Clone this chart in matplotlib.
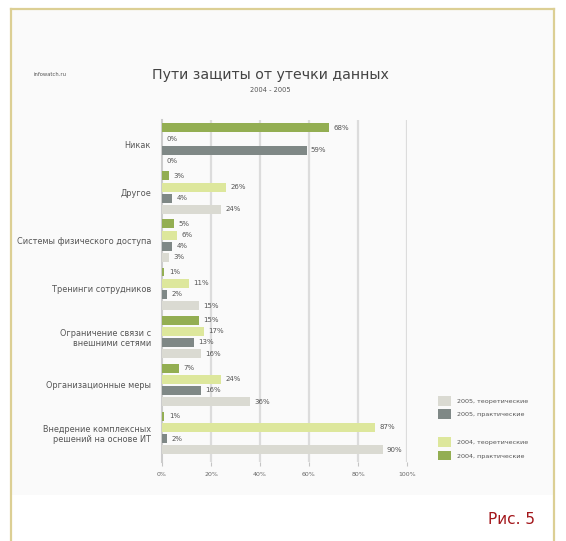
import numpy as np
import matplotlib.pyplot as plt
from matplotlib.patches import Patch, Rectangle
from matplotlib.lines import Line2D

# categories, top to bottom
categories = [
    "Никак",
    "Другое",
    "Системы физического доступа",
    "Тренинги сотрудников",
    "Ограничение связи с\nвнешними сетями",
    "Организационные меры",
    "Внедрение комплексных\nрешений на основе ИТ",
]

# shares, %
prac_2004 = [68, 3, 5, 1, 15, 7, 1]
theor_2004 = [0, 26, 6, 11, 17, 24, 87]
prac_2005 = [59, 4, 4, 2, 13, 16, 2]
theor_2005 = [0, 24, 3, 15, 16, 36, 90]

x_ticks = [0, 20, 40, 60, 80, 100]
x_ticklabels = ["0%", "20%", "40%", "60%", "80%", "100%"]

c_prac_2004 = "#93ae52"
c_theor_2004 = "#dde79c"
c_prac_2005 = "#7f8886"
c_theor_2005 = "#dadad2"

fig = plt.figure(figsize=(5.66, 5.41), dpi=100)

# page frame
fig.patches.append(Rectangle((12 / 566, 1 - 495 / 541), 541 / 566, 485 / 541,
                             transform=fig.transFigure, facecolor="#fafafa",
                             edgecolor="none", zorder=-5))
fig.add_artist(Line2D([11 / 566, 554 / 566], [1 - 9 / 541, 1 - 9 / 541],
                      transform=fig.transFigure, color="#dccf94", lw=1.6))
fig.add_artist(Line2D([11 / 566, 11 / 566], [0, 1 - 9 / 541],
                      transform=fig.transFigure, color="#dccf94", lw=1.6))
fig.add_artist(Line2D([554 / 566, 554 / 566], [0, 1 - 9 / 541],
                      transform=fig.transFigure, color="#dccf94", lw=1.6))

ax = fig.add_axes([162 / 566, 1 - 462 / 541, 245 / 566, 342 / 541])
ax.set_facecolor("none")
ax.set_zorder(2)

group_step = 4.3
base = np.arange(len(categories)) * group_step
series = [
    (prac_2004, c_prac_2004),
    (theor_2004, c_theor_2004),
    (prac_2005, c_prac_2005),
    (theor_2005, c_theor_2005),
]
for k, (vals, col) in enumerate(series):
    ys = base + k
    ax.barh(ys, vals, height=0.8, color=col, zorder=3)
    for y, v in zip(ys, vals):
        ax.text(v + 1.8, y, f"{v}%", va="center", ha="left",
                fontsize=5, color="#555555", zorder=4)

ax.set_xlim(0, 100)
ax.set_ylim(base[-1] + 3 + 1.1, -0.7)
ax.set_xticks(x_ticks)
ax.set_xticklabels(x_ticklabels, fontsize=4.5, color="#666666")
ax.set_yticks(base + 1.5)
ax.set_yticklabels(categories, fontsize=5.9, color="#555555", linespacing=1.2)
ax.tick_params(axis="y", length=0, pad=8)
ax.tick_params(axis="x", length=3, color="#c4c4c4", pad=4)
for x in x_ticks[1:]:
    ax.axvline(x, color="#dcdcdc", lw=1.6, zorder=1)
for s in ["top", "right", "bottom"]:
    ax.spines[s].set_visible(False)
ax.spines["left"].set_color("#cccccc")
ax.spines["left"].set_linewidth(1.5)

# titles
fig.text(270 / 566, 1 - 75 / 541, "Пути защиты от утечки данных",
         ha="center", va="center", fontsize=10.2, color="#444444")
fig.text(270 / 566, 1 - 90 / 541, "2004 - 2005",
         ha="center", va="center", fontsize=4.8, color="#555555")
fig.text(50 / 566, 1 - 75 / 541, "infowatch.ru",
         ha="center", va="center", fontsize=3.8, color="#555555")

# legend
handles = [
    Patch(facecolor=c_theor_2005, label="2005, теоретические"),
    Patch(facecolor=c_prac_2005, label="2005, практические"),
    Patch(facecolor="none", edgecolor="none", label=" "),
    Patch(facecolor=c_theor_2004, label="2004, теоретические"),
    Patch(facecolor=c_prac_2004, label="2004, практические"),
]
fig.legend(handles=handles, loc="upper left",
           bbox_to_anchor=(432 / 566, 1 - 390 / 541), frameon=False,
           fontsize=4.6, labelcolor="#555555", handlelength=2.0,
           handleheight=2.0, handletextpad=1.0, labelspacing=0.6)

fig.text(535 / 566, 1 - 520 / 541, "Рис. 5", ha="right", va="center",
         fontsize=11, color="#a3161b")

fig.savefig("out.png", dpi=100)
